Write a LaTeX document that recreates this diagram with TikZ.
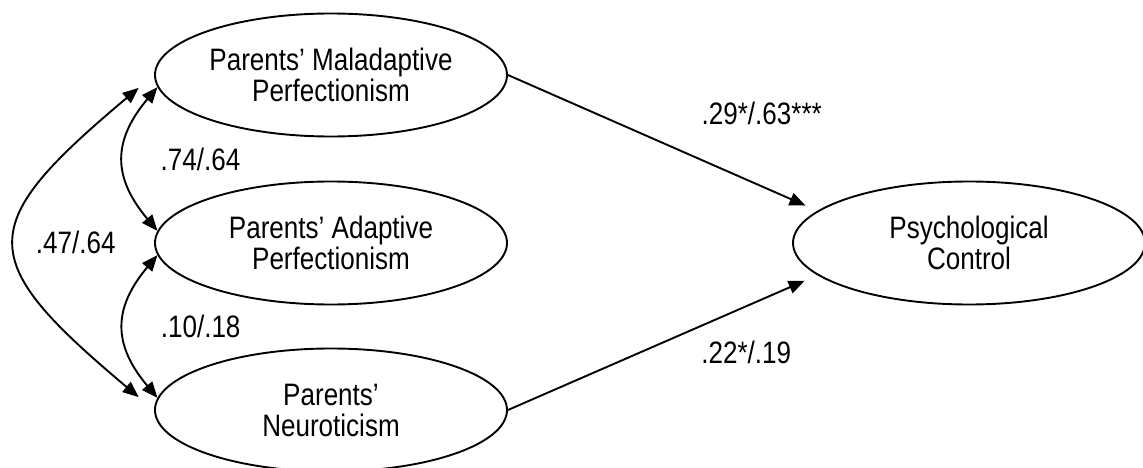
\documentclass[tikz,border=0pt]{standalone}
\usepackage{fontspec}
\setmainfont{Liberation Sans}[FakeStretch=0.84]
\usetikzlibrary{arrows.meta,shapes.geometric}
\tikzset{
  latent/.style={ellipse,draw,inner sep=0pt,minimum width=352pt,minimum height=123pt,align=center},
  coef/.style={inner sep=0pt},
  >={Triangle[length=16pt,width=13pt]}
}
\begin{document}
\begin{tikzpicture}[x=1pt,y=1pt,line width=1.9pt,font=\fontsize{31pt}{31pt}\selectfont]
  \useasboundingbox (0,0) rectangle (1143,-468);
  \foreach \name/\y/\txt in {mal/-75/Parents’ Maladaptive\\Perfectionism,
                             adap/-243/Parents’ Adaptive\\Perfectionism,
                             neuro/-410/Parents’\\Neuroticism}
    \node[latent] (\name) at (331,\y) {\txt};
  \node[latent] (ctrl) at (969,-243) {Psychological\\Control};

  \path[<->] (mal.184)   edge [out=230,in=130,looseness=1.25] node[coef,right=36pt] {.74/.64} (adap.176)
             (adap.184)  edge [out=230,in=130,looseness=1.25] node[coef,right=36pt] {.10/.18} (neuro.176)
             (mal.west)  edge [out=220,in=140,looseness=1.8,shorten <=20pt,shorten >=20pt]
                              node[coef,right=16pt] {.47/.64} (neuro.west);
  \path[->]  (mal.east)   edge [shorten >=13pt] node[coef,pos=.82,above=61pt] {.29*/.63***} (ctrl.168)
             (neuro.east) edge [shorten >=14pt] node[coef,pos=.77,below=34pt] {.22*/.19}    (ctrl.192);
\end{tikzpicture}
\end{document}
